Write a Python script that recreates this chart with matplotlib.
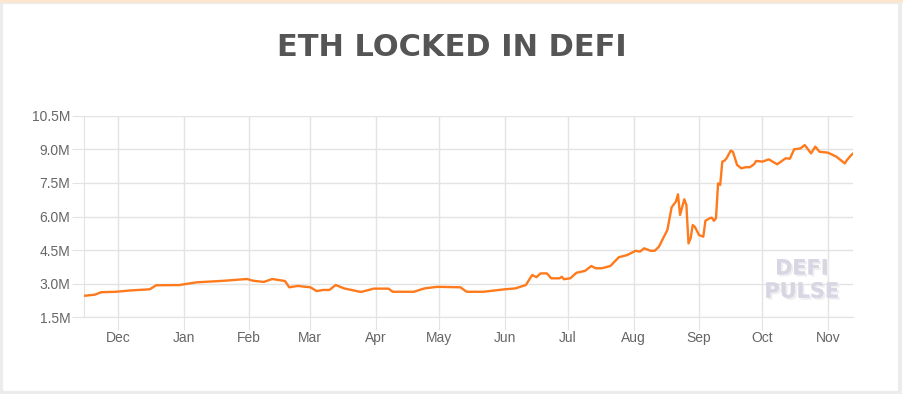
import matplotlib
matplotlib.use('Agg')
import matplotlib.pyplot as plt
import matplotlib.dates as mdates
from matplotlib.ticker import FuncFormatter, MultipleLocator
import matplotlib.patheffects as pe
import pandas as pd

# ETH locked in DeFi, millions
dates = [
    '2019-11-15', '2019-11-20', '2019-11-23', '2019-11-30', '2019-12-07', '2019-12-16',
    '2019-12-19', '2019-12-30', '2020-01-07', '2020-01-20', '2020-01-31', '2020-02-03',
    '2020-02-08', '2020-02-12', '2020-02-18', '2020-02-20', '2020-02-24', '2020-03-01',
    '2020-03-04', '2020-03-07', '2020-03-10', '2020-03-13', '2020-03-17', '2020-03-25',
    '2020-03-31', '2020-04-07', '2020-04-09', '2020-04-19', '2020-04-24', '2020-04-30',
    '2020-05-11', '2020-05-14', '2020-05-22', '2020-06-01', '2020-06-06', '2020-06-11',
    '2020-06-14', '2020-06-16', '2020-06-18', '2020-06-21', '2020-06-23', '2020-06-27',
    '2020-06-28', '2020-06-29', '2020-07-02', '2020-07-05', '2020-07-09', '2020-07-12',
    '2020-07-14', '2020-07-17', '2020-07-21', '2020-07-25', '2020-07-29', '2020-08-02',
    '2020-08-04', '2020-08-06', '2020-08-09', '2020-08-11', '2020-08-13', '2020-08-15',
    '2020-08-17', '2020-08-19', '2020-08-21', '2020-08-22', '2020-08-23', '2020-08-25',
    '2020-08-26', '2020-08-27', '2020-08-28', '2020-08-29', '2020-08-30', '2020-09-01',
    '2020-09-03', '2020-09-04', '2020-09-06', '2020-09-07', '2020-09-08', '2020-09-09',
    '2020-09-10', '2020-09-11', '2020-09-12', '2020-09-13', '2020-09-14', '2020-09-16',
    '2020-09-17', '2020-09-19', '2020-09-21', '2020-09-23', '2020-09-25', '2020-09-27',
    '2020-09-28', '2020-10-01', '2020-10-04', '2020-10-08', '2020-10-12', '2020-10-14',
    '2020-10-16', '2020-10-19', '2020-10-21', '2020-10-24', '2020-10-26', '2020-10-28',
    '2020-11-01', '2020-11-05', '2020-11-07', '2020-11-09', '2020-11-10', '2020-11-12',
    '2020-11-13',
]
eth_locked = [
    2.46, 2.51, 2.62, 2.64, 2.70, 2.75,
    2.93, 2.94, 3.06, 3.13, 3.21, 3.13,
    3.08, 3.21, 3.12, 2.84, 2.90, 2.84,
    2.67, 2.72, 2.72, 2.94, 2.79, 2.63,
    2.78, 2.78, 2.64, 2.64, 2.79, 2.86,
    2.84, 2.64, 2.64, 2.75, 2.79, 2.94,
    3.39, 3.29, 3.46, 3.46, 3.24, 3.24,
    3.31, 3.20, 3.24, 3.49, 3.57, 3.79,
    3.69, 3.69, 3.79, 4.18, 4.28, 4.47,
    4.43, 4.58, 4.47, 4.47, 4.65, 5.03,
    5.40, 6.41, 6.66, 6.99, 6.07, 6.77,
    6.51, 4.80, 5.03, 5.62, 5.54, 5.17,
    5.10, 5.81, 5.92, 5.95, 5.81, 5.92,
    7.48, 7.41, 8.45, 8.49, 8.60, 8.94,
    8.89, 8.30, 8.15, 8.20, 8.20, 8.33,
    8.48, 8.45, 8.55, 8.33, 8.60, 8.58,
    9.00, 9.04, 9.19, 8.82, 9.12, 8.89,
    8.85, 8.67, 8.52, 8.37, 8.52, 8.74,
    8.82,
]
x = pd.to_datetime(dates)

grid_c = '#e3e3e3'
text_c = '#666666'

fig = plt.figure(figsize=(9.04, 3.94), dpi=100, facecolor='white')
# card border
fig.patches.append(plt.Rectangle((1.5 / 904, 1.5 / 394), 899 / 904, 391 / 394,
                                 transform=fig.transFigure, facecolor='none',
                                 edgecolor='#ececec', lw=3, zorder=-5))
fig.patches.append(plt.Rectangle((0, 391 / 394), 1, 3 / 394, transform=fig.transFigure,
                                 facecolor='#fbe6cf', edgecolor='none', zorder=-4))

fig.text(0.5, 1 - 47 / 394, 'ETH LOCKED IN DEFI', ha='center', va='center',
         fontsize=22, fontweight='bold', color='#555555', family='DejaVu Sans')

ax = fig.add_axes([84.3 / 904, 1 - 317.3 / 394, 769 / 904, 201.6 / 394])
ax.set_zorder(2)
ax.set_facecolor('none')
ax.plot(x, eth_locked, color='#ff7a1c', lw=1.7, zorder=3)

ax.set_xlim(pd.Timestamp('2019-11-15'), pd.Timestamp('2020-11-13'))
ax.set_ylim(1.5, 10.5)
ax.yaxis.set_major_locator(MultipleLocator(1.5))
ax.yaxis.set_major_formatter(FuncFormatter(lambda v, p: '%.1fM' % v))
ax.xaxis.set_major_locator(mdates.MonthLocator())
ax.xaxis.set_major_formatter(mdates.DateFormatter('%b'))

ax.grid(True, color=grid_c, lw=1)
for s in ['top', 'right']:
    ax.spines[s].set_visible(False)
for s in ['left', 'bottom']:
    ax.spines[s].set_color(grid_c)
ax.tick_params(length=9, color=grid_c, labelcolor=text_c, labelsize=10, pad=1)
for lab in ax.get_xticklabels() + ax.get_yticklabels():
    lab.set_family('Liberation Sans')

ax.text(0.933, 0.185, 'DEFI\nPULSE', transform=ax.transAxes, ha='center', va='center',
        fontsize=15, fontweight='bold', color='#d8d6e2', linespacing=1.2,
        family='DejaVu Sans',
        path_effects=[pe.withSimplePatchShadow(offset=(1.5, -1.5), shadow_rgbFace='#efeff2', alpha=1),
                      pe.Normal()])

fig.savefig('out.png', dpi=100, facecolor=fig.get_facecolor())
